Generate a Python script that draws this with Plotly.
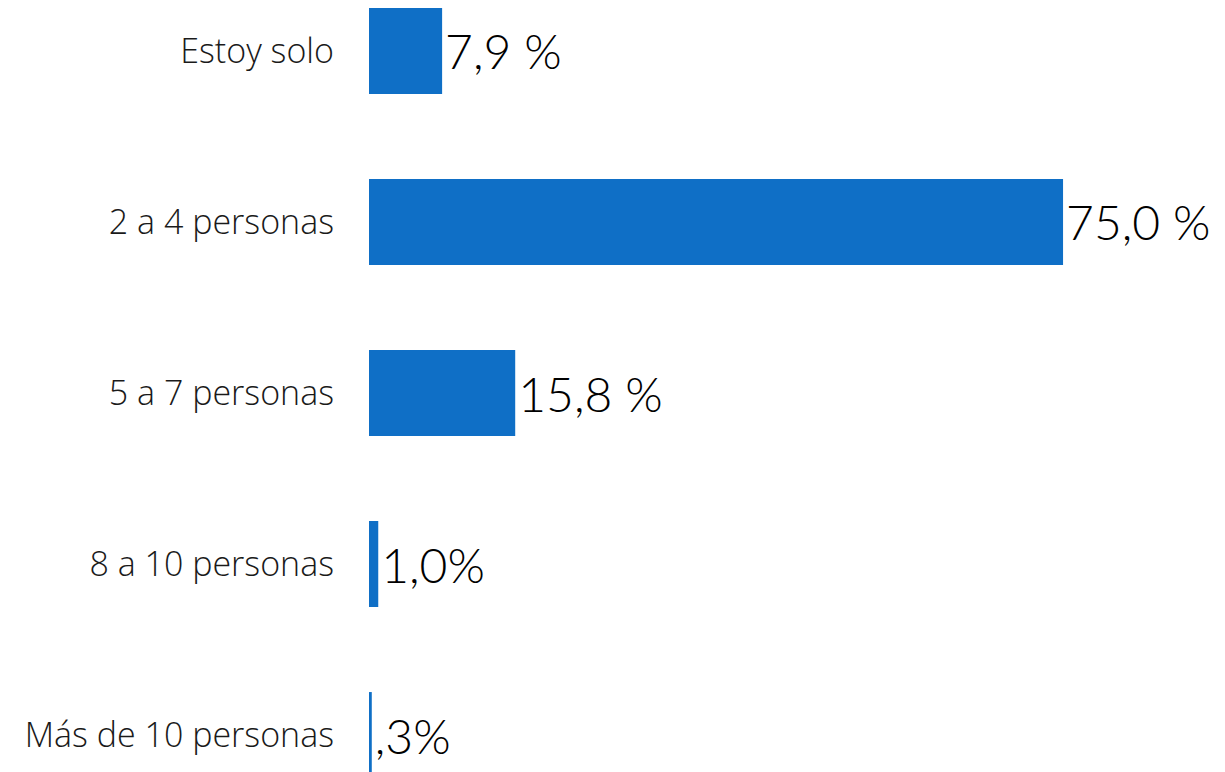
import plotly.graph_objects as go

categories = ["Estoy solo", "2 a 4 personas", "5 a 7 personas", "8 a 10 personas", "Más de 10 personas"]
values = [7.9, 75.0, 15.8, 1.0, 0.3]
value_labels = ["7,9 %", "75,0 %", "15,8 %", "1,0%", ",3%"]

fig = go.Figure(go.Bar(
    y=categories, x=values, orientation="h",
    marker=dict(color="#0F6FC6", line=dict(width=0)),
    text=value_labels, textposition="outside", cliponaxis=False,
    constraintext="none",
    textfont=dict(family="Lato", size=48, color="#000000", weight=300),
    hoverinfo="skip",
))

fig.update_layout(
    width=1225, height=772,
    margin=dict(l=369, r=0, t=0, b=0),
    paper_bgcolor="white", plot_bgcolor="white",
    bargap=0.497, showlegend=False,
    xaxis=dict(range=[0, 92.5], visible=False, showgrid=False, zeroline=False),
    yaxis=dict(
        categoryorder="array", categoryarray=categories,
        range=[4.216, -0.298], showgrid=False, zeroline=False, showline=False,
        ticks="", ticklabelstandoff=34,
        tickfont=dict(family="Open Sans", size=34, color="#1a1a1a", weight=300),
    ),
)

fig.write_html("out.html")
